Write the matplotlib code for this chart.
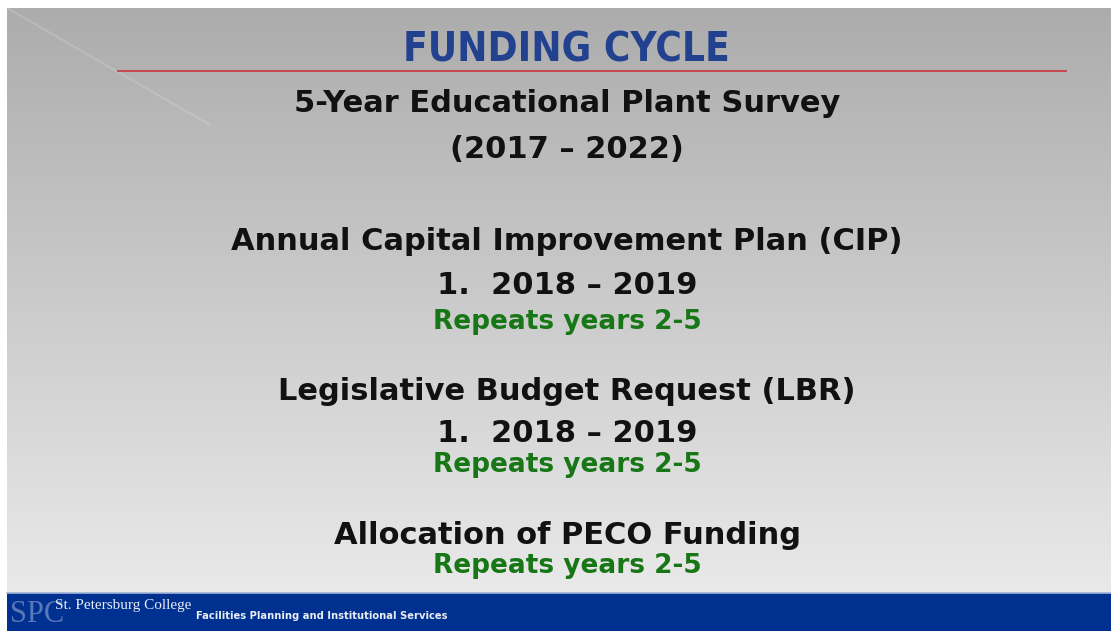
import numpy as np
import matplotlib
matplotlib.use("Agg")
import matplotlib.pyplot as plt
from matplotlib.patches import Rectangle

W, H = 1111, 631

title = "FUNDING CYCLE"
lines = [
    ("5-Year Educational Plant Survey", "main"),
    ("(2017 – 2022)", "main"),
    ("Annual Capital Improvement Plan (CIP)", "main"),
    ("1.  2018 – 2019", "num"),
    ("Repeats years 2-5", "green"),
    ("Legislative Budget Request (LBR)", "main"),
    ("1.  2018 – 2019", "num"),
    ("Repeats years 2-5", "green"),
    ("Allocation of PECO Funding", "main"),
    ("Repeats years 2-5", "green"),
]
line_y = [104, 149, 242, 285, 322, 391, 433, 465, 536, 566]
footer_logo = "SPC"
footer_college = "St. Petersburg College"
footer_dept = "Facilities Planning and Institutional Services"

fig = plt.figure(figsize=(W / 100, H / 100), dpi=100)
ax = fig.add_axes([0, 0, 1, 1])
ax.set_xlim(0, W)
ax.set_ylim(H, 0)
ax.axis("off")
fig.patch.set_facecolor("white")

# slide background gradient
top = np.array([0.675, 0.675, 0.675])
bot = np.array([0.915, 0.915, 0.915])
t = np.linspace(0, 1, 256)[:, None]
grad = (top[None, :] * (1 - t) + bot[None, :] * t)[:, None, :]
grad = np.repeat(grad, 2, axis=1)
ax.imshow(grad, extent=(7, W, 593, 8), aspect="auto", zorder=0, interpolation="bilinear")

# faint diagonal highlight
ax.plot([7, 210], [8, 125], color="white", alpha=0.15, lw=1.5, zorder=1)

# red rule under title
ax.plot([118, 1066], [71, 71], color="#c8474f", lw=1.4, zorder=2)

# title
ax.text(566, 51, title, ha="center", va="center", fontsize=29, fontweight="bold",
        color="#22418f", family=["DejaVu Sans"], fontstretch="condensed", zorder=3)

styles = {
    "main": dict(fontsize=22, fontweight="bold", color="#111111", family=["DejaVu Sans"]),
    "num": dict(fontsize=22, fontweight="bold", color="#111111", family=["DejaVu Sans"]),
    "green": dict(fontsize=19, fontweight="bold", color="#177717", family=["DejaVu Sans"]),
}
for (txt, kind), y in zip(lines, line_y):
    ax.text(567, y, txt, ha="center", va="center", zorder=3, **styles[kind])

# footer band
ax.add_patch(Rectangle((7, 593), W - 7, H - 593, facecolor="#003090", edgecolor="none", zorder=2))
ax.plot([7, W], [593, 593], color="#9fb3d8", lw=1.2, zorder=3)
ax.text(10, 614, footer_logo, ha="left", va="center", fontsize=22, color="#5a78b8",
        family=["Liberation Serif", "DejaVu Serif"], zorder=4)
ax.text(55, 605, footer_college, ha="left", va="center", fontsize=11, color="#e8ecf5",
        family=["Liberation Serif", "DejaVu Serif"], zorder=4)
ax.text(196, 616, footer_dept, ha="left", va="center", fontsize=7.2, fontweight="bold",
        color="#e8ecf5", family=["DejaVu Sans"], zorder=4)

fig.savefig("out.png", dpi=100, facecolor="white")
